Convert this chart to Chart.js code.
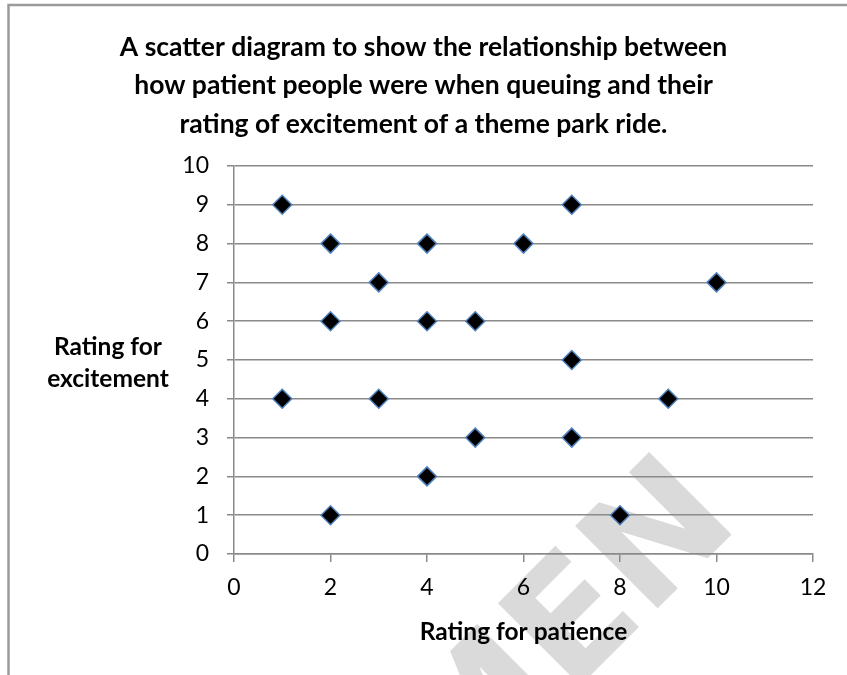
<!DOCTYPE html>
<html>
<head>
<meta charset="utf-8">
<script src="https://cdn.jsdelivr.net/npm/chart.js@4.4.1/dist/chart.umd.min.js"></script>
<style>
  html, body { margin: 0; padding: 0; background: #fff; }
  #wrap { position: relative; width: 847px; height: 675px; overflow: hidden; }
</style>
</head>
<body>
<div id="wrap"><canvas id="scatter" width="847" height="675"></canvas></div>
<script>
// data
var patience   = [1, 7, 2, 4, 6, 3, 10, 2, 4, 5, 7, 1, 3, 9, 5, 7, 4, 2, 8];
var excitement = [9, 9, 8, 8, 8, 7, 7,  6, 6, 6, 5, 4, 4, 4, 3, 3, 2, 1, 1];
var xTicks = [0, 2, 4, 6, 8, 10, 12];
var yTicks = [0, 1, 2, 3, 4, 5, 6, 7, 8, 9, 10];

var titleLines = [
  'A scatter diagram to show the relationship between',
  'how patient people were when queuing and their',
  'rating of excitement of a theme park ride.'
];
var xTitle = 'Rating for patience';
var yTitle = ['Rating for', 'excitement'];
var watermark = 'SPECIMEN';

var points = [];
for (var i = 0; i < patience.length; i++) {
  points.push({x: patience[i], y: excitement[i]});
}

var gridGrey = '#8a8a8a';
var fontName = 'Lato';

// white page, frame and faint watermark underneath everything
var backdrop = {
  id: 'backdrop',
  beforeDraw: function (chart) {
    var ctx = chart.ctx;
    ctx.save();
    ctx.fillStyle = '#fff';
    ctx.fillRect(0, 0, chart.width, chart.height);

    ctx.translate(742, 524);
    ctx.rotate(-Math.PI / 4);
    ctx.font = 'bold 160px "DejaVu Sans"';
    ctx.fillStyle = '#dadada';
    ctx.textAlign = 'right';
    ctx.textBaseline = 'alphabetic';
    ctx.fillText(watermark, 0, 0);
    ctx.restore();

    ctx.save();
    ctx.strokeStyle = '#9a9a9a';
    ctx.lineWidth = 2.5;
    ctx.strokeRect(8.5, 5, 900, 900);
    ctx.restore();
  },
  // horizontal y axis title, like the original
  afterDraw: function (chart) {
    var ctx = chart.ctx;
    ctx.save();
    ctx.font = 'bold 24.5px ' + fontName;
    ctx.fillStyle = '#000';
    ctx.textAlign = 'center';
    ctx.textBaseline = 'middle';
    ctx.fillText(yTitle[0], 108, 347);
    ctx.fillText(yTitle[1], 108, 379);
    ctx.restore();
  }
};

const config = {
  type: 'scatter',
  data: {
    datasets: [{
      label: 'excitement',
      data: points,
      pointStyle: 'rectRot',
      pointRadius: 9.5,
      pointHoverRadius: 9.5,
      backgroundColor: '#000',
      borderColor: '#4f81bd',
      borderWidth: 1.5
    }]
  },
  options: {
    responsive: false,
    animation: false,
    devicePixelRatio: 1,
    layout: {
      padding: {left: 34, right: 34, top: 0, bottom: 0}
    },
    plugins: {
      legend: {display: false},
      tooltip: {enabled: false},
      title: {
        display: true,
        text: titleLines,
        color: '#000',
        font: {family: fontName, size: 26.5, weight: 'bold', lineHeight: '38.5px'},
        padding: {top: 27.75, bottom: 22.75}
      }
    },
    scales: {
      x: {
        type: 'linear',
        min: xTicks[0],
        max: xTicks[xTicks.length - 1],
        afterBuildTicks: function (s) {
          s.ticks = xTicks.map(function (v) { return {value: v}; });
        },
        afterFit: function (s) { s.height = 121; },
        grid: {drawOnChartArea: false, drawTicks: true, tickLength: 8, color: gridGrey, lineWidth: 1.5},
        border: {display: true, color: gridGrey, width: 1.5},
        ticks: {color: '#000', padding: 12.2, font: {family: fontName, size: 23}},
        title: {
          display: true,
          text: xTitle,
          color: '#000',
          font: {family: fontName, size: 24.5, weight: 'bold'},
          padding: {bottom: 28.3}
        }
      },
      y: {
        type: 'linear',
        min: yTicks[0],
        max: yTicks[yTicks.length - 1],
        afterBuildTicks: function (s) {
          s.ticks = yTicks.map(function (v) { return {value: v}; });
        },
        afterFit: function (s) { s.width = 200; },
        grid: {drawTicks: true, tickLength: 7, color: gridGrey, lineWidth: 1.5},
        border: {display: true, color: gridGrey, width: 1.5},
        ticks: {color: '#000', padding: 18, font: {family: fontName, size: 23}}
      }
    }
  },
  plugins: [backdrop]
};

const myChart = new Chart(document.getElementById('scatter'), config);
</script>
</body>
</html>
